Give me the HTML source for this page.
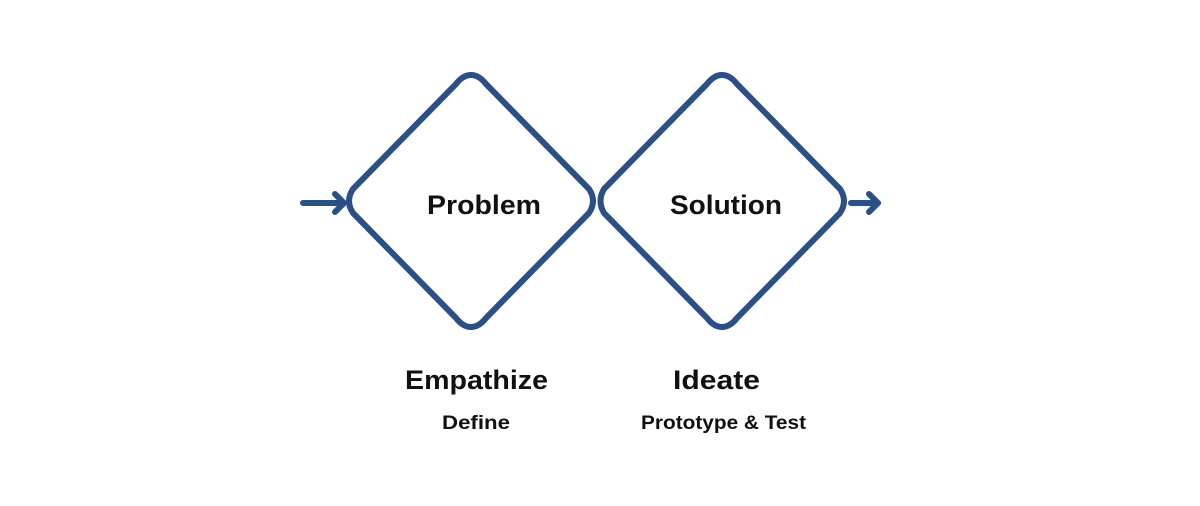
<!DOCTYPE html>
<html><head><meta charset="utf-8"><style>
html,body{margin:0;padding:0;background:#fff;}
svg{display:block}
text{font-family:"Liberation Sans",sans-serif;font-weight:bold;fill:#111;}
</style></head><body>
<svg width="1200" height="506" viewBox="0 0 1200 506">
<g fill="none" stroke="#2c4f85" stroke-width="6" stroke-linecap="round" stroke-linejoin="round">
  <path d="M471,75 Q479,75 486,84 L589,189 Q597,201 589,213 L486,318 Q479,327 471,327 Q463,327 456,318 L353,213 Q345,201 353,189 L456,84 Q463,75 471,75 Z"/>
  <path d="M722,75 Q730,75 737,84 L840,189 Q848,201 840,213 L737,318 Q730,327 722,327 Q714,327 707,318 L604,213 Q597,201 604,189 L707,84 Q714,75 722,75 Z"/>
  <line x1="303" y1="203" x2="344" y2="203"/>
  <polyline points="335,194 344,203 335,212"/>
  <line x1="851" y1="203" x2="878" y2="203"/>
  <polyline points="869,194 878,203 869,212"/>
</g>
<text x="427" y="214" font-size="27" textLength="114" lengthAdjust="spacingAndGlyphs">Problem</text>
<text x="670" y="214" font-size="27" textLength="112" lengthAdjust="spacingAndGlyphs">Solution</text>
<text x="405" y="389" font-size="27" textLength="143" lengthAdjust="spacingAndGlyphs">Empathize</text>
<text x="673" y="389" font-size="27" textLength="87" lengthAdjust="spacingAndGlyphs">Ideate</text>
<text x="442" y="429" font-size="19" textLength="68" lengthAdjust="spacingAndGlyphs">Define</text>
<text x="641" y="429" font-size="19" textLength="165" lengthAdjust="spacingAndGlyphs">Prototype &amp; Test</text>
</svg>
</body></html>
